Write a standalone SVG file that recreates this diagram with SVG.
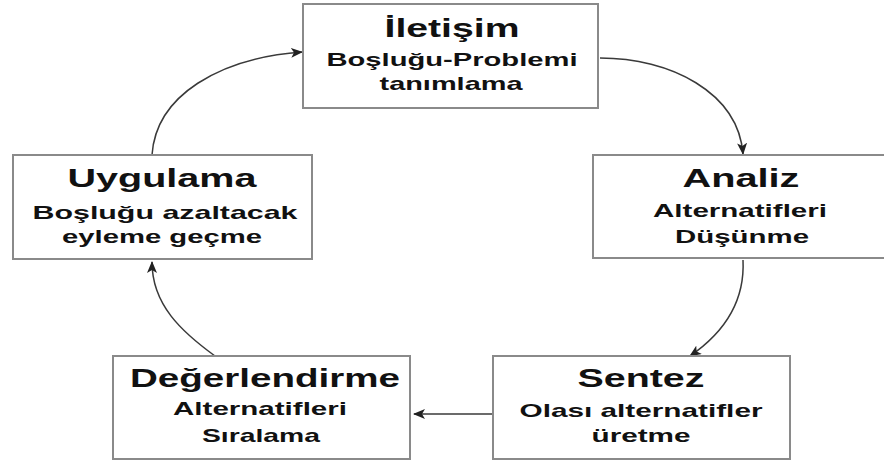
<svg xmlns="http://www.w3.org/2000/svg" width="884" height="466" viewBox="0 0 884 466">
<style>
.box{fill:#ffffff;stroke:#8a8a8a;stroke-width:2}
.t{font-family:"Liberation Sans",Arial,sans-serif;font-weight:bold;fill:#111;text-anchor:middle}
.h{font-size:26px}
.s{font-size:19px}
.c{fill:none;stroke:#3a3a3a;stroke-width:1.5}
</style>
<defs>
<marker id="ah" viewBox="0 0 12 10" refX="11" refY="5" markerWidth="12" markerHeight="10" markerUnits="userSpaceOnUse" orient="auto">
<path d="M0,0 L12,5 L0,10 L3,5 z" fill="#222"/>
</marker>
</defs>
<rect width="884" height="466" fill="#ffffff"/>
<g id="connectors">
<path class="c" d="M600,58 C670,58 738,92 743,154" marker-end="url(#ah)"/>
<path class="c" d="M743,260 C745,300 725,332 690,356" marker-end="url(#ah)"/>
<path class="c" d="M493,414 L414,414" marker-end="url(#ah)"/>
<path class="c" d="M215,356 C182,332 152,305 152,262" marker-end="url(#ah)"/>
<path class="c" d="M152,155 C156,95 220,58 302,52" marker-end="url(#ah)"/>
</g>
<g id="iletisim">
<rect class="box" x="303" y="4" width="295" height="104"/>
<text class="t h" x="452" y="37" textLength="135" lengthAdjust="spacingAndGlyphs">İletişim</text>
<text class="t s" x="452" y="66" textLength="251" lengthAdjust="spacingAndGlyphs">Boşluğu-Problemi</text>
<text class="t s" x="451" y="90" textLength="143" lengthAdjust="spacingAndGlyphs">tanımlama</text>
</g>
<g id="analiz">
<rect class="box" x="593" y="155" width="300" height="103"/>
<text class="t h" x="741" y="187" textLength="117" lengthAdjust="spacingAndGlyphs">Analiz</text>
<text class="t s" x="740" y="217" textLength="174" lengthAdjust="spacingAndGlyphs">Alternatifleri</text>
<text class="t s" x="742" y="243" textLength="134" lengthAdjust="spacingAndGlyphs">Düşünme</text>
</g>
<g id="sentez">
<rect class="box" x="493" y="356" width="297" height="103"/>
<text class="t h" x="641" y="387" textLength="127" lengthAdjust="spacingAndGlyphs">Sentez</text>
<text class="t s" x="641" y="417" textLength="243" lengthAdjust="spacingAndGlyphs">Olası alternatifler</text>
<text class="t s" x="641" y="442" textLength="99" lengthAdjust="spacingAndGlyphs">üretme</text>
</g>
<g id="degerlendirme">
<rect class="box" x="113" y="356" width="297" height="103"/>
<text class="t h" x="265" y="387" textLength="270" lengthAdjust="spacingAndGlyphs">Değerlendirme</text>
<text class="t s" x="260" y="415" textLength="174" lengthAdjust="spacingAndGlyphs">Alternatifleri</text>
<text class="t s" x="261" y="442" textLength="118" lengthAdjust="spacingAndGlyphs">Sıralama</text>
</g>
<g id="uygulama">
<rect class="box" x="13" y="155" width="299" height="104"/>
<text class="t h" x="162" y="187" textLength="189" lengthAdjust="spacingAndGlyphs">Uygulama</text>
<text class="t s" x="165" y="219" textLength="265" lengthAdjust="spacingAndGlyphs">Boşluğu azaltacak</text>
<text class="t s" x="162" y="243" textLength="200" lengthAdjust="spacingAndGlyphs">eyleme geçme</text>
</g>
</svg>
